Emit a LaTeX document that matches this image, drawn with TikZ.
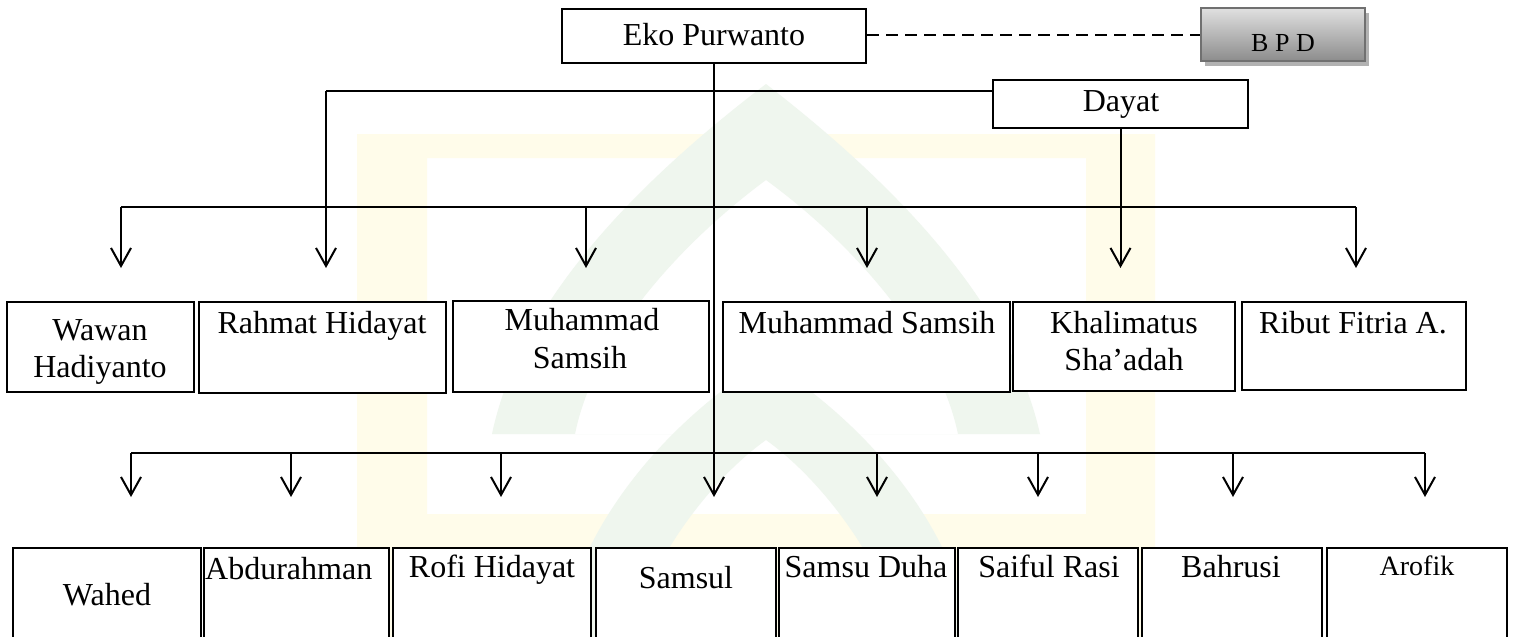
\documentclass[tikz,border=0pt]{standalone}
\usepackage{fontspec}
\setmainfont{Liberation Serif}
\usetikzlibrary{arrows.meta,shadows,fit}
\definecolor{wmyellow}{HTML}{FFFCEA}
\definecolor{wmgreen}{HTML}{EFF6EE}
\definecolor{bpdborder}{HTML}{707070}
\tikzset{
  box/.style={draw, fill=white, line width=2pt, inner sep=0pt},
  lbl/.style={font=\fontsize{32}{38}\selectfont, anchor=base, inner sep=0pt},
  conn/.style={line width=2pt},
  arr/.style={conn, -{Straight Barb[length=18pt,width=20pt,line width=2pt]}},
}
\begin{document}
\begin{tikzpicture}[x=1pt,y=-1pt]
\useasboundingbox (0,0) rectangle (1513,637);
\fill[white] (0,0) rectangle (1513,637);
% watermark (faint logo)
\fill[wmyellow, even odd rule] (357,134) rectangle (1155,637) (427,158) rectangle (1086,514);
\fill[wmgreen, even odd rule]
  (492,434) .. controls (520,300) and (640,180) .. (766,84) .. controls (890,180) and (1010,300) .. (1040,434) -- cycle
  (575,434) .. controls (595,335) and (685,240) .. (766,180) .. controls (848,240) and (937,335) .. (958,434) -- cycle;
\fill[wmgreen, even odd rule]
  (560,637) .. controls (580,520) and (670,420) .. (766,360) .. controls (862,420) and (952,520) .. (972,637) -- cycle
  (630,637) .. controls (650,560) and (710,480) .. (766,440) .. controls (822,480) and (882,560) .. (902,637) -- cycle;
% top boxes
\node[box, fit={(562,9) (866,63)}] (eko) {};
\node[lbl] (eko-t) at (714,45) {Eko Purwanto};
\node[box, fit={(993,80) (1248,128)}] (dayat) {};
\node[lbl] (dayat-t) at (1121,111) {Dayat};
\node[draw=bpdborder, line width=1.5pt, top color=white!88!black, bottom color=black!45!white,
      drop shadow={shadow xshift=4pt, shadow yshift=-5pt, fill=black!30, opacity=1},
      inner sep=0pt, fit={(1201,8) (1365,61)}] (bpd) {};
\node[font=\fontsize{26}{30}\selectfont, anchor=base, inner sep=0pt] (bpd-t) at (1283,51) {B P D};
% middle boxes
\node[box, fit={(7,302) (194,392)}] (wawan) {};
\node[box, fit={(199,302) (446,393)}] (rahmat) {};
\node[box, fit={(453,301) (709,392)}] (muh1) {};
\node[box, fit={(723,302) (1010,392)}] (muh2) {};
\node[box, fit={(1013,302) (1235,391)}] (khal) {};
\node[box, fit={(1242,302) (1466,390)}] (ribut) {};
\node[lbl] (wawan-t1) at (100,340) {Wawan};
\node[lbl] (wawan-t2) at (100,377) {Hadiyanto};
\node[lbl] (rahmat-t) at (322,333) {Rahmat Hidayat};
\node[lbl] (muh1-t1) at (582,330) {Muhammad};
\node[lbl] (muh1-t2) at (580,368) {Samsih};
\node[lbl] (muh2-t) at (867,333) {Muhammad Samsih};
\node[lbl] (khal-t1) at (1124,333) {Khalimatus};
\node[lbl] (khal-t2) at (1124,370) {Sha’adah};
\node[lbl] (ribut-t) at (1353,333) {Ribut Fitria A.};
% bottom boxes
\node[box, fit={(13,548) (201,660)}] (wahed) {};
\node[box, fit={(204,548) (389,660)}] (abdu) {};
\node[box, fit={(393,548) (591,660)}] (rofi) {};
\node[box, fit={(596,548) (776,660)}] (samsul) {};
\node[box, fit={(779,548) (955,660)}] (duha) {};
\node[box, fit={(958,548) (1138,660)}] (saiful) {};
\node[box, fit={(1142,548) (1322,660)}] (bahrusi) {};
\node[box, fit={(1327,548) (1507,660)}] (arofik) {};
\node[lbl] (wahed-t) at (107,605) {Wahed};
\node[lbl, anchor=base west] (abdu-t) at (205,579) {Abdurahman};
\node[lbl] (rofi-t) at (492,577) {Rofi Hidayat};
\node[lbl] (samsul-t) at (686,588) {Samsul};
\node[lbl] (duha-t) at (866,577) {Samsu Duha};
\node[lbl] (saiful-t) at (1049,577) {Saiful Rasi};
\node[lbl] (bahrusi-t) at (1231,577) {Bahrusi};
\node[lbl, font=\fontsize{28}{34}\selectfont] (arofik-t) at (1417,575) {Arofik};
% coordinates
\coordinate (midL) at (121,207);
\coordinate (midR) at (1356,207);
\coordinate (botL) at (131,453);
\coordinate (botR) at (1425,453);
\coordinate (dl) at (326,91);
\coordinate (m1) at (121,268);
\coordinate (m2) at (326,268);
\coordinate (m3) at (586,268);
\coordinate (m4) at (867,268);
\coordinate (m6) at (1356,268);
\coordinate (b1) at (131,497);
\coordinate (b2) at (291,497);
\coordinate (b3) at (501,497);
\coordinate (b4) at (714,497);
\coordinate (b5) at (877,497);
\coordinate (b6) at (1038,497);
\coordinate (b7) at (1233,497);
\coordinate (b8) at (1425,497);
% connectors
\draw[conn, dash pattern=on 12pt off 7pt] (eko.east |- bpd.west) -- (bpd.west);
\draw[conn] (dayat.west |- dl) -- (dl);
\draw[arr] (dl) -- (m2);
\draw[arr] (dayat.south) -- (dayat.south |- m2);
\draw[arr] (eko.south) -- (b4);
\draw[conn] (midL) -- (midR);
\draw[arr] (midL) -- (m1);
\draw[arr] (m3 |- midL) -- (m3);
\draw[arr] (m4 |- midL) -- (m4);
\draw[arr] (midR) -- (m6);
\draw[conn] (botL) -- (botR);
\draw[arr] (botL) -- (b1);
\draw[arr] (b2 |- botL) -- (b2);
\draw[arr] (b3 |- botL) -- (b3);
\draw[arr] (b5 |- botL) -- (b5);
\draw[arr] (b6 |- botL) -- (b6);
\draw[arr] (b7 |- botL) -- (b7);
\draw[arr] (botR) -- (b8);
\end{tikzpicture}
\end{document}
